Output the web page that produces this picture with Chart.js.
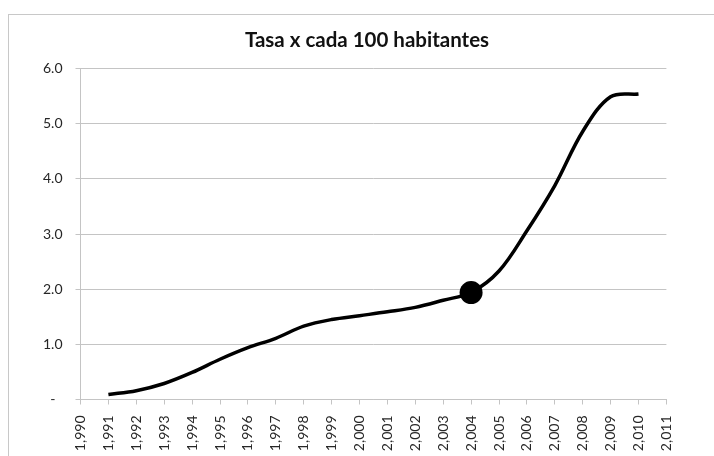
<!DOCTYPE html>
<html>
<head>
<meta charset="utf-8">
<script src="https://cdn.jsdelivr.net/npm/chart.js@4/dist/chart.umd.min.js"></script>
<style>
  html, body { margin: 0; padding: 0; background: #ffffff; }
  #wrap { width: 714px; height: 456px; }
</style>
</head>
<body>
<div id="wrap"><canvas id="c" width="714" height="456"></canvas></div>
<script>
const chartTitle = "Tasa x cada 100 habitantes";
const years = [1991, 1992, 1993, 1994, 1995, 1996, 1997, 1998, 1999, 2000,
               2001, 2002, 2003, 2004, 2005, 2006, 2007, 2008, 2009, 2010];
const rates = [0.09, 0.16, 0.29, 0.49, 0.73, 0.94, 1.11, 1.33, 1.45, 1.52,
               1.59, 1.67, 1.80, 1.94, 2.33, 3.06, 3.88, 4.86, 5.49, 5.54];
const highlightYear = 2004;
const xTickValues = [1990, 1991, 1992, 1993, 1994, 1995, 1996, 1997, 1998, 1999, 2000,
                     2001, 2002, 2003, 2004, 2005, 2006, 2007, 2008, 2009, 2010, 2011];
const xTickLabels = ["1,990", "1,991", "1,992", "1,993", "1,994", "1,995", "1,996", "1,997",
                     "1,998", "1,999", "2,000", "2,001", "2,002", "2,003", "2,004", "2,005",
                     "2,006", "2,007", "2,008", "2,009", "2,010", "2,011"];
const yTickValues = [0, 1, 2, 3, 4, 5, 6];
const yTickLabels = ["-  ", "1.0", "2.0", "3.0", "4.0", "5.0", "6.0"];

const gridColor = '#c4c4c4';
const tickFont = { family: 'Lato', size: 14 };

const frame = {
  id: 'frame',
  beforeDraw(chart) {
    const ctx = chart.ctx;
    ctx.save();
    ctx.fillStyle = '#ffffff';
    ctx.fillRect(0, 0, chart.width, chart.height);
    ctx.strokeStyle = '#c8c8c8';
    ctx.lineWidth = 1;
    ctx.strokeRect(8.5, 14.5, chart.width + 20, chart.height + 20);
    ctx.restore();
  }
};

new Chart(document.getElementById('c'), {
  type: 'scatter',
  data: {
    datasets: [{
      data: years.map((y, i) => ({ x: y, y: rates[i] })),
      showLine: true,
      borderColor: '#000000',
      backgroundColor: '#000000',
      borderWidth: 3.5,
      tension: 0.35,
      pointRadius: ctx => (years[ctx.dataIndex] === highlightYear ? 11.5 : 0),
      pointBackgroundColor: '#000000',
      pointBorderWidth: 0
    }]
  },
  options: {
    responsive: false,
    animation: false,
    events: [],
    layout: { padding: { left: 20, right: 0, top: 14, bottom: 0 } },
    plugins: {
      legend: { display: false },
      tooltip: { enabled: false },
      title: {
        display: true,
        text: chartTitle,
        color: '#111111',
        font: { family: 'Lato', size: 20.5, weight: 'bold', lineHeight: 1.2 },
        padding: { top: 14, bottom: 16 }
      }
    },
    scales: {
      x: {
        type: 'linear',
        min: 1990,
        max: 2011,
        afterBuildTicks: s => { s.ticks = xTickValues.map(v => ({ value: v })); },
        afterFit: s => { s.height = 56.5; },
        grid: { display: true, drawOnChartArea: false, drawTicks: true, tickLength: 5, color: gridColor },
        border: { display: true, color: gridColor, width: 1 },
        ticks: {
          autoSkip: false,
          maxRotation: 90,
          minRotation: 90,
          padding: 11,
          color: '#262626',
          font: tickFont,
          callback: v => xTickLabels[xTickValues.indexOf(v)]
        }
      },
      y: {
        type: 'linear',
        min: 0,
        max: 6,
        afterBuildTicks: s => { s.ticks = yTickValues.map(v => ({ value: v })); },
        afterFit: s => { s.width = 60.5; },
        grid: { color: gridColor, tickLength: 5, drawTicks: true },
        border: { display: true, color: gridColor, width: 1 },
        ticks: {
          padding: 13,
          color: '#262626',
          font: tickFont,
          callback: v => yTickLabels[yTickValues.indexOf(v)]
        }
      },
      yRight: {
        type: 'linear',
        position: 'right',
        display: true,
        afterFit: s => { s.width = 47.6; },
        grid: { display: false, drawOnChartArea: false },
        border: { display: false },
        ticks: { display: false }
      }
    }
  },
  plugins: [frame]
});
</script>
</body>
</html>
